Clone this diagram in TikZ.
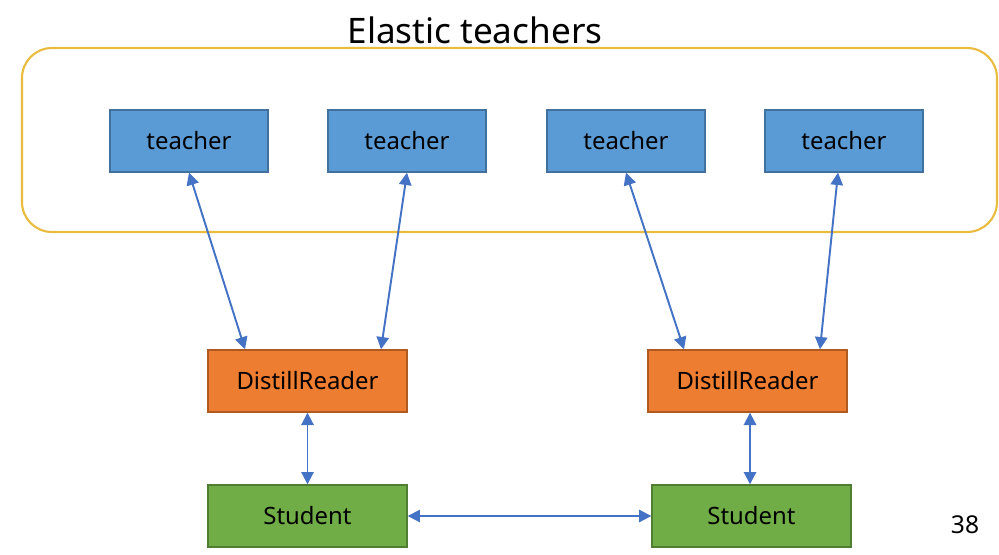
\documentclass[tikz,border=0pt]{standalone}
\usepackage{fontspec}
\setmainfont{Noto Sans}
\usepackage{tikz}
\usepackage{xcolor}
\usetikzlibrary{arrows.meta, positioning, calc}

\definecolor{teacherblue}{HTML}{5B9BD5}
\definecolor{teacheredge}{HTML}{41719C}
\definecolor{readerorange}{HTML}{ED7D31}
\definecolor{readeredge}{HTML}{AE5A21}
\definecolor{studentgreen}{HTML}{70AD47}
\definecolor{studentedge}{HTML}{507E32}
\definecolor{linkblue}{HTML}{4472C4}
\definecolor{poolgold}{HTML}{E9BB3E}

\tikzset{
    box/.style={draw, line width=0.8pt, minimum width=3.16cm, minimum height=1.24cm, inner sep=0pt, font=\fontsize{13.6}{16}\selectfont},
    teacherbox/.style={box, fill=teacherblue, draw=teacheredge},
    readerbox/.style={box, fill=readerorange, draw=readeredge, minimum width=3.98cm},
    studentbox/.style={box, fill=studentgreen, draw=studentedge, minimum width=3.98cm},
    link/.style={{Triangle[length=7pt, width=7pt]}-{Triangle[length=7pt, width=7pt]}, line width=1.1pt, linkblue}
}

\begin{document}
\begin{tikzpicture}[x=0.02cm, y=-0.02cm]
    \useasboundingbox (0,0) rectangle (999,554);

    % Pool of elastic teachers
    \draw[poolgold, line width=1.2pt, rounded corners=0.6cm] (22,48) rectangle (997,232);
    \node[font=\fontsize{20}{24}\selectfont] (title) at (475,30) {Elastic teachers};

    % Teachers
    \foreach \x/\name in {189/t1, 407/t2, 626/t3, 844/t4} {
        \node[teacherbox] (\name) at (\x,141) {teacher};
    }

    % Readers and students
    \node[readerbox] (r1) at (307.5,381) {DistillReader};
    \node[readerbox] (r2) at (747.5,381) {DistillReader};
    \node[studentbox] (s1) at (307.5,516) {Student};
    \node[studentbox] (s2) at (751.5,516) {Student};

    % Links teacher <-> reader
    \draw[link] (t1.south) -- ([xshift=-1.25cm]r1.north);
    \draw[link] (t2.south) -- ([xshift=1.47cm]r1.north);
    \draw[link] (t3.south) -- ([xshift=-1.27cm]r2.north);
    \draw[link] ([xshift=-0.12cm]t4.south) -- ([xshift=1.45cm]r2.north);

    % Links reader <-> student
    \draw[link] (r1.south) -- (r1.south |- s1.north);
    \draw[link] ([xshift=0.05cm]r2.south) -- ([xshift=0.05cm]r2.south |- s2.north);

    % Student <-> Student
    \draw[link] (s1.east) -- (s2.west);

    % Page number
    \node[font=\fontsize{14}{16}\selectfont] (page) at (965,525) {38};
\end{tikzpicture}
\end{document}
